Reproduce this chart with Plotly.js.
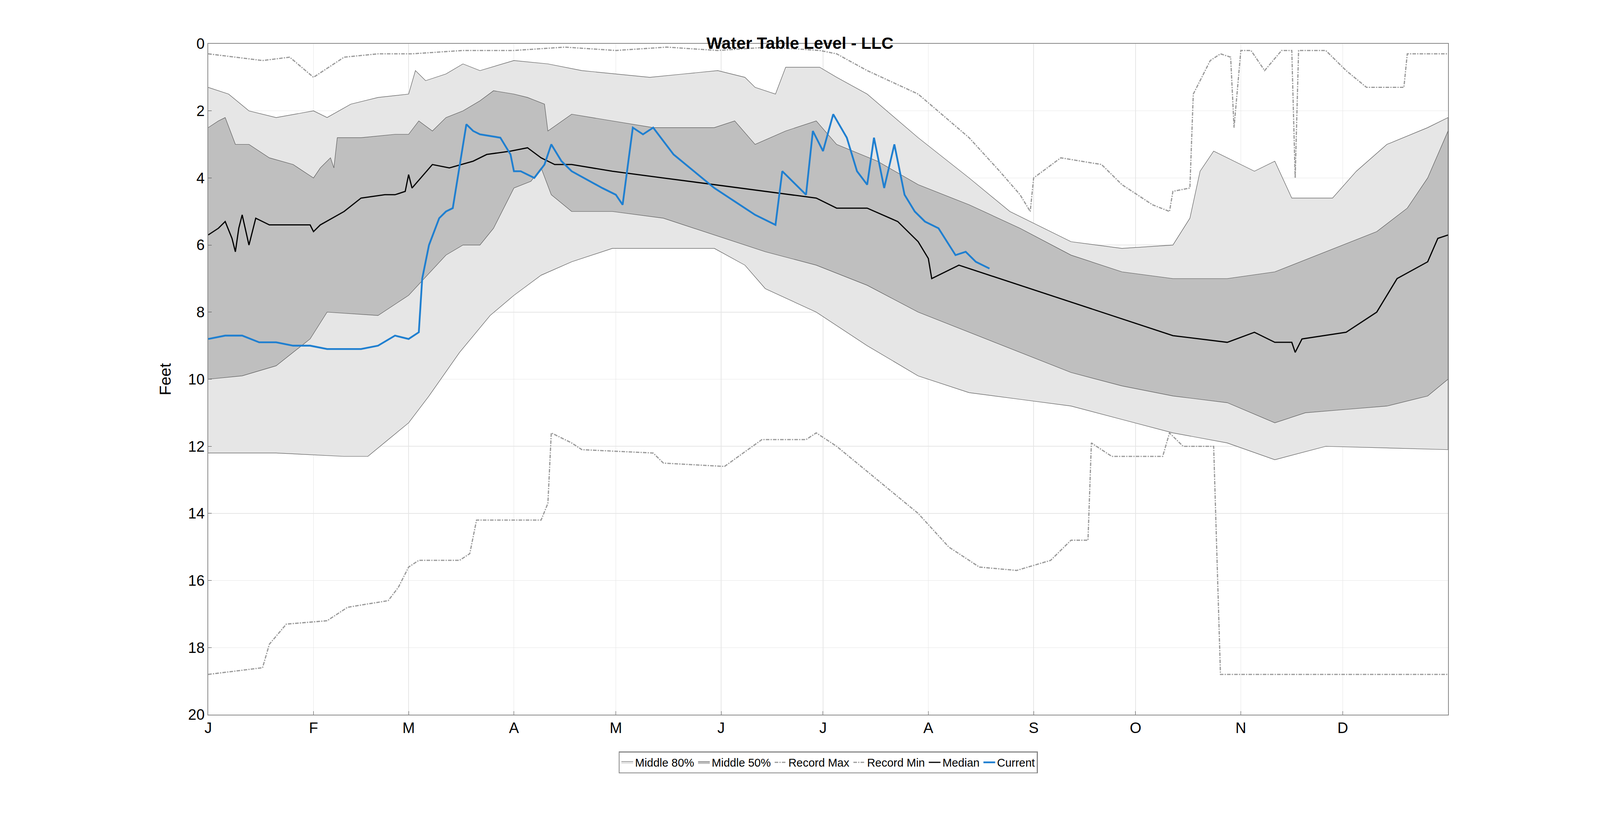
<!DOCTYPE html>
<html>
<head>
<meta charset="utf-8">
<script src="https://cdn.plot.ly/plotly-3.0.1.min.js"></script>
<style>html,body{margin:0;padding:0;background:#fff;overflow:hidden}#myDiv{width:100vw;height:100vh}</style>
</head>
<body>
<div id="myDiv"></div>
<script>
// day of year -> depth (feet)
let maxDays = [0,8,16,24,31,34,40,50,60,75,90,105,120,135,150,165,180,185,194,209,224,233,239,242,243,251,263,269,278,283,284,289,290,295,298,301,302,304,307,311,316,319,320,321,329,335,341,352,353,365];
let maxVals = [0.3,0.4,0.5,0.4,1.0,0.8,0.4,0.3,0.3,0.2,0.2,0.1,0.2,0.1,0.2,0.1,0.2,0.3,0.8,1.5,2.8,3.8,4.5,5.0,4.0,3.4,3.6,4.2,4.8,5.0,4.4,4.3,1.5,0.5,0.3,0.4,2.5,0.2,0.2,0.8,0.2,0.2,4.0,0.2,0.2,0.8,1.3,1.3,0.3,0.3];

let minDays = [0,16,18,23,35,41,53,56,59,62,74,77,79,98,100,101,107,110,131,134,152,163,176,179,185,197,209,218,227,238,248,254,259,260,266,281,283,287,296,298,365];
let minVals = [18.8,18.6,17.9,17.3,17.2,16.8,16.6,16.2,15.6,15.4,15.4,15.2,14.2,14.2,13.7,11.6,11.9,12.1,12.2,12.5,12.6,11.8,11.8,11.6,12.0,13.0,14.0,15.0,15.6,15.7,15.4,14.8,14.8,11.9,12.3,12.3,11.6,12.0,12.0,18.8,18.8];

let p10Days = [0,6,12,20,31,35,42,50,59,61,64,70,75,80,90,100,110,120,130,140,150,158,161,167,170,180,185,194,209,224,236,242,254,269,284,289,292,296,302,308,314,319,331,338,347,359,365];
let p10Vals = [1.3,1.5,2.0,2.2,2.0,2.2,1.8,1.6,1.5,0.8,1.1,0.9,0.6,0.8,0.5,0.6,0.8,0.9,1.0,0.9,0.8,1.0,1.3,1.5,0.7,0.7,1.0,1.5,2.8,4.0,5.0,5.3,5.9,6.1,6.0,5.2,3.8,3.2,3.5,3.8,3.5,4.6,4.6,3.8,3.0,2.5,2.2];

let p25Days = [0,3,5,8,12,18,25,28,31,33,36,37,38,45,55,59,62,66,70,75,80,84,90,94,99,100,107,119,131,149,155,161,170,179,185,197,209,224,239,254,269,284,300,314,329,344,353,359,365];
let p25Vals = [2.5,2.3,2.2,3.0,3.0,3.4,3.6,3.8,4.0,3.7,3.4,3.7,2.8,2.8,2.7,2.7,2.3,2.6,2.2,2.0,1.7,1.4,1.5,1.6,1.8,2.6,2.1,2.3,2.5,2.5,2.3,3.0,2.6,2.3,3.0,3.5,4.2,4.8,5.5,6.3,6.8,7.0,7.0,6.8,6.2,5.6,4.9,4.0,2.6];

let medDays = [0,3,5,7,8,9,10,12,14,18,30,31,33,40,45,52,55,58,59,60,66,71,78,82,89,94,98,102,107,119,134,149,164,179,185,194,203,209,212,213,221,230,239,254,269,284,300,308,314,319,320,322,335,344,350,359,362,365];
let medVals = [5.7,5.5,5.3,5.8,6.2,5.5,5.1,6.0,5.2,5.4,5.4,5.6,5.4,5.0,4.6,4.5,4.5,4.4,3.9,4.3,3.6,3.7,3.5,3.3,3.2,3.1,3.4,3.6,3.6,3.8,4.0,4.2,4.4,4.6,4.9,4.9,5.3,5.9,6.4,7.0,6.6,6.9,7.2,7.7,8.2,8.7,8.9,8.6,8.9,8.9,9.2,8.8,8.6,8.0,7.0,6.5,5.8,5.7];

let p75Days = [0,10,20,30,35,50,59,70,75,80,84,90,95,98,101,107,119,134,149,164,179,194,209,224,239,254,269,284,300,314,323,335,347,359,365];
let p75Vals = [10.0,9.9,9.6,8.8,8.0,8.1,7.5,6.3,6.0,6.0,5.5,4.3,4.1,3.7,4.5,5.0,5.0,5.2,5.7,6.2,6.6,7.2,8.0,8.6,9.2,9.8,10.2,10.5,10.7,11.3,11.0,10.9,10.8,10.5,10.0];

let p90Days = [0,20,40,47,53,59,65,74,83,90,98,107,119,149,158,164,179,194,209,224,239,254,269,284,300,314,329,365];
let p90Vals = [12.2,12.2,12.3,12.3,11.8,11.3,10.5,9.2,8.1,7.5,6.9,6.5,6.1,6.1,6.6,7.3,8.0,9.0,9.9,10.4,10.6,10.8,11.2,11.6,11.9,12.4,12.0,12.1];

let curDays = [0,5,10,15,20,25,30,35,40,45,50,55,59,62,63,65,68,70,72,76,78,80,86,89,90,92,96,99,101,104,107,116,120,122,125,128,131,137,143,149,155,161,167,169,173,176,178,181,184,188,191,194,196,199,202,205,208,211,215,220,223,226,230];
let curVals = [8.8,8.7,8.7,8.9,8.9,9.0,9.0,9.1,9.1,9.1,9.0,8.7,8.8,8.6,7.0,6.0,5.2,5.0,4.9,2.4,2.6,2.7,2.8,3.3,3.8,3.8,4.0,3.6,3.0,3.5,3.8,4.3,4.5,4.8,2.5,2.7,2.5,3.3,3.8,4.3,4.7,5.1,5.4,3.8,4.2,4.5,2.6,3.2,2.1,2.8,3.8,4.2,2.8,4.3,3.0,4.5,5.0,5.3,5.5,6.3,6.2,6.5,6.7];

let monthDays = [0,31,59,90,120,151,181,212,243,273,304,334];
let monthLabels = ["J","F","M","A","M","J","J","A","S","O","N","D"];

// band polygons: top edge forward, bottom edge backwards
function band(topX, topY, botX, botY) {
  return {
    x: topX.concat(botX.slice().reverse()),
    y: topY.concat(botY.slice().reverse())
  };
}

let W = window.innerWidth || 5375;
let H = window.innerHeight || 2096;
let s = W / 5375;

let b80 = band(p10Days, p10Vals, p90Days, p90Vals);
let b50 = band(p25Days, p25Vals, p75Days, p75Vals);
let edge = { color: "#555555", width: 1.5 * s };

let data = [
  { x: b80.x, y: b80.y, mode: "lines", line: edge, fill: "toself", fillcolor: "#e6e6e6", name: "Middle 80%" },
  { x: b50.x, y: b50.y, mode: "lines", line: edge, fill: "toself", fillcolor: "#bfbfbf", name: "Middle 50%" },
  { x: maxDays, y: maxVals, mode: "lines", line: { color: "#999999", width: 4 * s, dash: "dashdot" }, name: "Record Max" },
  { x: minDays, y: minVals, mode: "lines", line: { color: "#999999", width: 4 * s, dash: "dashdot" }, name: "Record Min" },
  { x: medDays, y: medVals, mode: "lines", line: { color: "#000000", width: 4 * s }, name: "Median" },
  { x: curDays, y: curVals, mode: "lines", line: { color: "#1f7fd0", width: 6 * s }, name: "Current" }
];

let layout = {
  width: W,
  height: H,
  paper_bgcolor: "#ffffff",
  plot_bgcolor: "#ffffff",
  font: { family: "Liberation Sans, Arial, sans-serif", size: 50 * s, color: "#000" },
  margin: { l: 700 * s, r: 510 * s, t: 147 * s, b: 351 * s },
  title: { text: "<b>Water Table Level - LLC</b>", font: { size: 56 * s }, x: 0.5, xanchor: "center", y: 1 - 110 / 2096, yanchor: "middle" },
  xaxis: {
    range: [0, 365], tickvals: monthDays, ticktext: monthLabels,
    showgrid: true, gridcolor: "#e6e6e6", gridwidth: 2 * s,
    showline: true, linecolor: "#888", linewidth: 2 * s, mirror: true,
    ticks: "inside", ticklen: 12 * s, tickcolor: "#444", zeroline: false
  },
  yaxis: {
    range: [20, 0], dtick: 2,
    title: { text: "Feet", font: { size: 54 * s }, standoff: 40 * s },
    showgrid: true, gridcolor: "#e6e6e6", gridwidth: 2 * s,
    showline: true, linecolor: "#888", linewidth: 2 * s, mirror: true,
    ticks: "inside", ticklen: 12 * s, tickcolor: "#444", zeroline: false
  },
  showlegend: true,
  legend: {
    orientation: "h", x: 0.5, xanchor: "center", y: -0.055, yanchor: "top",
    font: { size: 38 * s }, bordercolor: "#888", borderwidth: 3 * s, bgcolor: "#fff",
    traceorder: "normal"
  }
};

Plotly.newPlot("myDiv", data, layout, { staticPlot: true });
</script>
</body>
</html>
